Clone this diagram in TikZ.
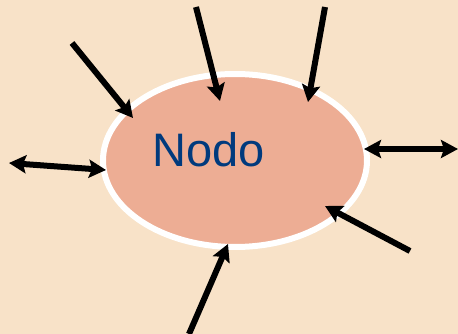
\documentclass[tikz,border=0pt]{standalone}
\usepackage{fontspec}
\setmainfont{Liberation Sans}
\usetikzlibrary{shapes.geometric,arrows.meta}
\definecolor{bg}{HTML}{F8E2C8}
\definecolor{salmon}{HTML}{EDAD94}
\definecolor{nblue}{HTML}{003A7D}
\begin{document}
\begin{tikzpicture}[x=1pt,y=-1pt,
  conn/.style={line width=6pt,-{Stealth[length=17pt,width=18pt,inset=3pt]}},
  dconn/.style={line width=6pt,{Stealth[length=17pt,width=18pt,inset=3pt]}-{Stealth[length=17pt,width=18pt,inset=3pt]}},
  nodeell/.style={ellipse,draw=white,line width=6pt,fill=salmon,inner sep=0pt,outer sep=0pt,minimum width=264pt,minimum height=173pt}]
\fill[bg] (0,0) rectangle (458,334);
\useasboundingbox (0,0) rectangle (458,334);
\node[nodeell] (n) at (235,160.5) {};
\node[anchor=base west,text=nblue,font=\fontsize{47}{50}\selectfont,inner sep=0pt] (t) at (152,167) {Nodo};
\coordinate (a1) at (72,43);   \coordinate (b1) at (133,118);
\coordinate (a2) at (196,7);   \coordinate (b2) at (220,101);
\coordinate (a3) at (325,7);   \coordinate (b3) at (308,102);
\coordinate (a6) at (410,251); \coordinate (b6) at (325,206);
\coordinate (a7) at (189,334); \coordinate (b7) at (228,244);
\coordinate (l1) at (9,163);   \coordinate (l2) at (106,170);
\coordinate (r1) at (364,149); \coordinate (r2) at (458,149);
\draw[conn] (a1) -- (b1);
\draw[conn] (a2) -- (b2);
\draw[conn] (a3) -- (b3);
\draw[conn] (a6) -- (b6);
\draw[conn] (a7) -- (b7);
\draw[dconn] (l1) -- (l2);
\draw[dconn] (r1) -- (r2);
\end{tikzpicture}
\end{document}
